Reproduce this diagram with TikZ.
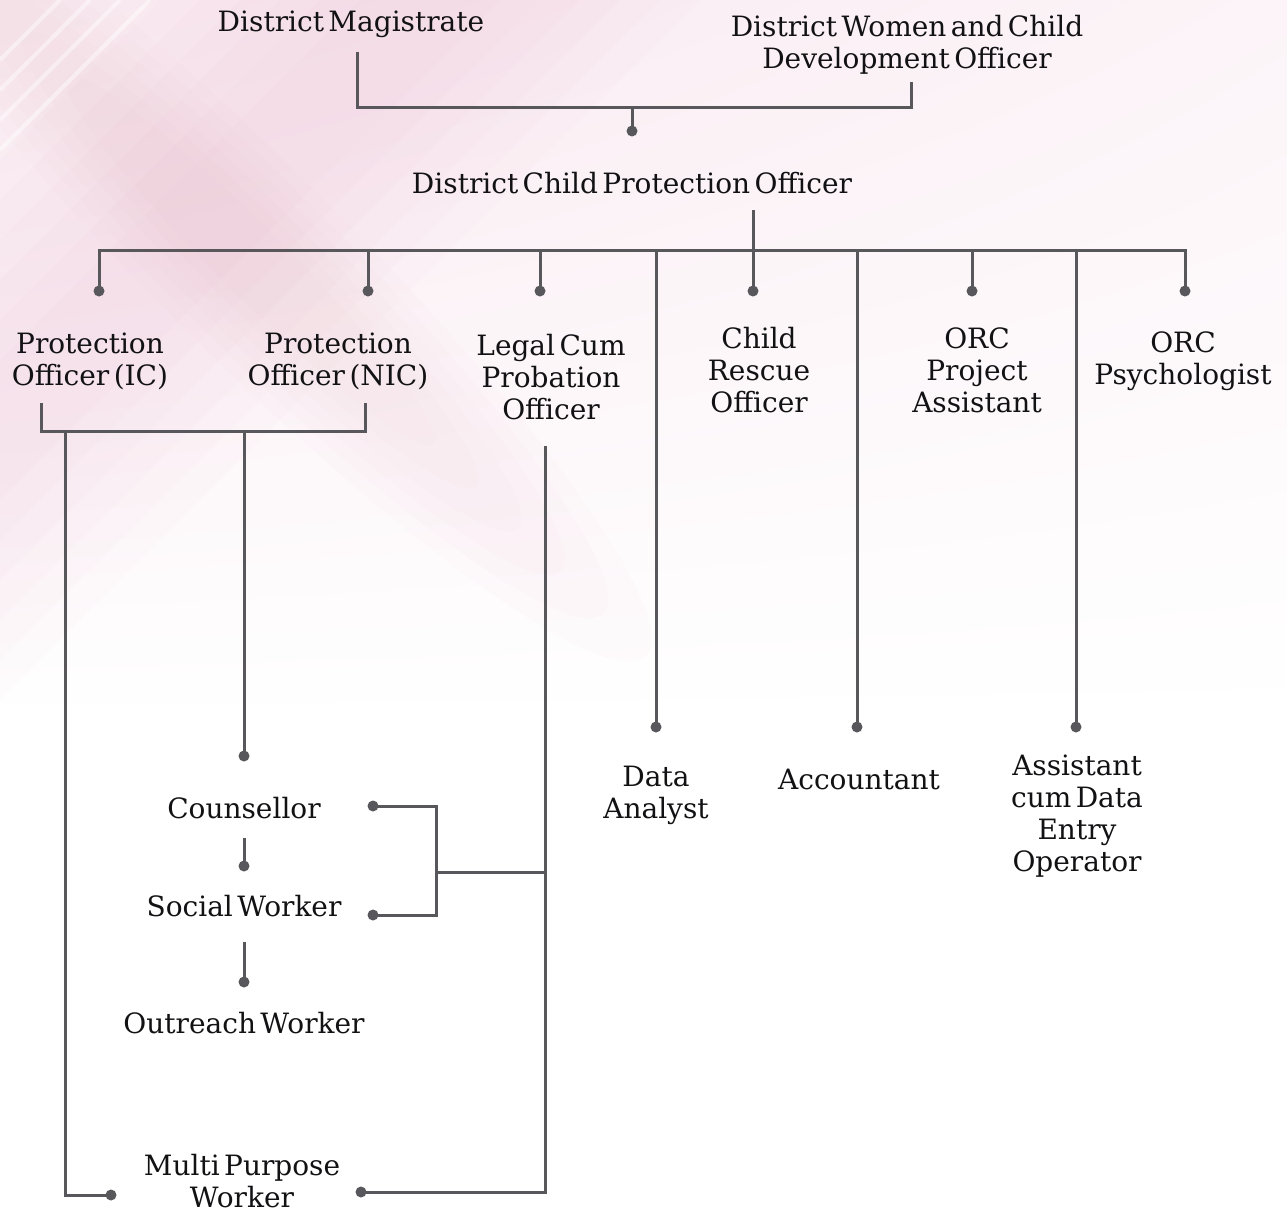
\documentclass[tikz,border=0pt]{standalone}
\usepackage{fontspec}
\usetikzlibrary{shadings}
\setmainfont{DejaVu Serif}[WordSpace=0.5]
\definecolor{ink}{RGB}{18,18,20}
\definecolor{wire}{RGB}{88,88,92}
\definecolor{washA}{RGB}{248,232,239}
\definecolor{washB}{RGB}{252,244,248}
\definecolor{rose}{RGB}{232,140,172}
\begin{document}
\begin{tikzpicture}[x=1pt,y=-1pt,
  role/.style={font=\fontsize{28}{32}\selectfont, text=ink, align=center, inner sep=0pt},
  link/.style={draw=wire, line width=3pt, line join=miter},
  knob/.style={fill=wire}]
\useasboundingbox (0,0) rectangle (1287,1212);

% soft pink wash with diagonal bands
\fill[white] (0,0) rectangle (1287,1212);
\shade[upper left=washA, upper right=washB, lower left=white, lower right=white] (0,0) rectangle (1287,720);
\begin{scope}
  \clip (0,0) rectangle (1287,1212);
  % band rising to the upper right, from the left edge to the top edge
  \foreach \a/\b in {160/700,200/660,240/620,280/580,320/540,360/500}
    \fill[rose, opacity=0.022] (\a,0) -- (\b,0) -- (0,\b) -- (0,\a) -- cycle;
  % band falling to the lower right
  \foreach \a/\b in {560/95,500/82,440/70,380/58,320/46,260/34}
    \fill[rose, opacity=0.018, rotate around={-45:(250,260)}] (250,260) ellipse ({\a pt} and {\b pt});
  % light streaks in the corner
  \foreach \k in {30,60,90,120}
    \draw[white, opacity=0.45, line width=4pt] (\k+30,0) -- (0,\k+30);
\end{scope}

% ---------- positions ----------
\node[role] (dm)   at (351,24)  {District Magistrate};
\node[role] (dwcd) at (907,45)  {District Women and Child\\Development Officer};
\node[role] (dcpo) at (632,183) {District Child Protection Officer};
\node[role] (poic)  at (90,361)  {Protection\\Officer (IC)};
\node[role] (ponic) at (338,361) {Protection\\Officer (NIC)};
\node[role] (lcpo)  at (551,377) {Legal Cum\\Probation\\Officer};
\node[role] (cro)   at (759,370) {Child\\Rescue\\Officer};
\node[role] (orcpa) at (977,370) {ORC\\Project\\Assistant};
\node[role] (orcp)  at (1183,361) {ORC\\Psychologist};
\node[role] (da)    at (656,795) {Data\\Analyst};
\node[role] (acc)   at (859,779) {Accountant};
\node[role] (adeo)  at (1077,816) {Assistant\\cum Data\\Entry\\Operator};
\node[role] (cns)   at (244,808) {Counsellor};
\node[role] (sw)    at (244,906) {Social Worker};
\node[role] (ow)    at (244,1023) {Outreach Worker};
\node[role] (mpw)   at (242,1181) {Multi Purpose\\Worker};

% ---------- junctions ----------
\coordinate (dmS) at (357,52);
\coordinate (dmC) at (357,108);
\coordinate (dwS) at (911,82);
\coordinate (dwC) at (911,108);
\coordinate (topJ) at (632,108);
\coordinate (topD) at (632,131);

\coordinate (cpS) at (753,210);
\coordinate (busL) at (99,250);
\coordinate (busR) at (1185,250);
\foreach \n/\x/\y in {a/99/291,b/368/291,c/540/291,d/656/727,e/753/291,f/857/727,g/972/291,h/1076/727,i/1185/291}{
  \coordinate (top\n) at (\x,250);
  \coordinate (end\n) at (\x,\y);
}

\coordinate (icS) at (41,403);
\coordinate (icC) at (41,431);
\coordinate (nicS) at (365,403);
\coordinate (nicC) at (365,431);
\coordinate (poJ1) at (65,431);
\coordinate (poK1) at (65,1195);
\coordinate (mpL) at (111,1195);
\coordinate (poJ2) at (244,431);
\coordinate (cnsT) at (244,756);

\coordinate (lgS) at (545,446);
\coordinate (lgJ) at (545,872);
\coordinate (lgK) at (545,1192);
\coordinate (mpR) at (361,1192);
\coordinate (brJ) at (436,872);
\coordinate (brT) at (436,806);
\coordinate (brB) at (436,915);
\coordinate (cnsR) at (373,806);
\coordinate (swR) at (373,915);

\coordinate (cnsS) at (244,838);
\coordinate (swT) at (244,866);
\coordinate (swS) at (244,942);
\coordinate (owT) at (244,982);

% ---------- connectors ----------
\draw[link] (dmS) -- (dmC) -- (dwC) -- (dwS);
\draw[link] (topJ) -- (topD);
\draw[link] (cpS) -- (tope);
\draw[link] (enda) -- (busL) -- (busR) -- (endi);
\foreach \n in {b,c,d,e,f,g,h}
  \draw[link] (top\n) -- (end\n);

\draw[link] (icS) -- (icC) -- (nicC) -- (nicS);
\draw[link] (poJ1) -- (poK1) -- (mpL);
\draw[link] (poJ2) -- (cnsT);

\draw[link] (lgS) -- (lgK) -- (mpR);
\draw[link] (lgJ) -- (brJ);
\draw[link] (cnsR) -- (brT) -- (brB) -- (swR);

\draw[link] (cnsS) -- (swT);
\draw[link] (swS) -- (owT);

% ---------- end dots ----------
\foreach \p in {topD,enda,endb,endc,endd,ende,endf,endg,endh,endi,mpL,cnsT,mpR,cnsR,swR,swT,owT}
  \fill[knob] (\p) circle (5.5pt);
\end{tikzpicture}
\end{document}
